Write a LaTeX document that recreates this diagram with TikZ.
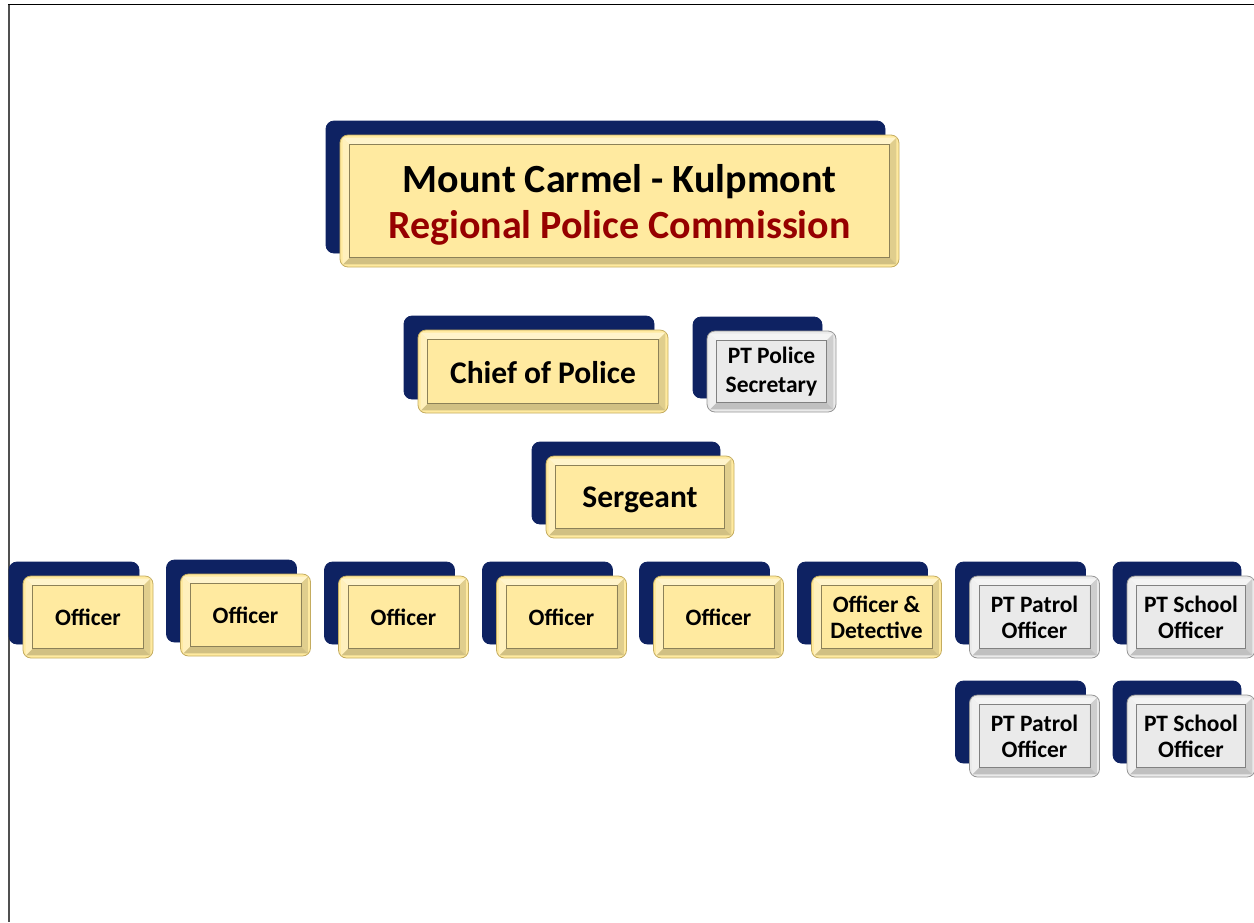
\documentclass[tikz,border=0pt]{standalone}
\usepackage{fontspec}
\setmainfont{Carlito}
\usetikzlibrary{shadows}
\definecolor{navy}{RGB}{14,34,98}
\definecolor{gold}{RGB}{255,234,160}
\definecolor{goldedge}{RGB}{196,172,96}
\definecolor{silver}{RGB}{234,234,234}
\definecolor{silveredge}{RGB}{150,150,150}
\definecolor{darkred}{RGB}{150,0,0}
\definecolor{frameline}{RGB}{80,80,80}
\tikzset{
  orgbox/.style={draw=goldedge, fill=gold, line width=0.8pt, rounded corners=8pt,
    inner sep=0pt, align=center, font=\bfseries,
    copy shadow={shadow xshift=-14pt, shadow yshift=14pt, fill=navy, draw=navy, opacity=1, rounded corners=10pt}},
  ptbox/.style={orgbox, fill=silver, draw=silveredge},
  bigtext/.style={font=\bfseries\fontsize{40}{46}\selectfont, align=center, inner sep=0pt},
  midtext/.style={font=\bfseries\fontsize{31.5}{36}\selectfont, align=center, inner sep=0pt},
  smalltext/.style={font=\bfseries\fontsize{23.5}{26}\selectfont},
  sectext/.style={font=\bfseries\fontsize{23.5}{29}\selectfont},
}
\newcommand\bevel[2]{%
  \path ([shift={(3pt,-3pt)}]#1.north west) coordinate (bA)
        ([shift={(-3pt,-3pt)}]#1.north east) coordinate (bB)
        ([shift={(-3pt,3pt)}]#1.south east) coordinate (bC)
        ([shift={(3pt,3pt)}]#1.south west) coordinate (bD)
        ([shift={(10pt,-10pt)}]#1.north west) coordinate (ba)
        ([shift={(-10pt,-10pt)}]#1.north east) coordinate (bb)
        ([shift={(-10pt,10pt)}]#1.south east) coordinate (bc)
        ([shift={(10pt,10pt)}]#1.south west) coordinate (bd);
  \fill[#2!55!white] (bA)--(bB)--(bb)--(ba)--cycle;
  \fill[#2!88!black] (bB)--(bC)--(bc)--(bb)--cycle;
  \fill[#2!82!black] (bC)--(bD)--(bd)--(bc)--cycle;
  \fill[#2!70!white] (bD)--(bA)--(ba)--(bd)--cycle;
  \draw[#2!55!black, line width=0.6pt] (ba) rectangle (bc);
}
\begin{document}
\begin{tikzpicture}[x=1pt,y=-1pt]
\path[use as bounding box] (0,0) rectangle (1254,922);
\draw[frameline, line width=2pt] (9,4) -- (9,922);
\draw[black, line width=1pt] (8,4) -- (1254,4);

\node[orgbox, minimum width=559pt, minimum height=132pt] (main) at (619.5,201) {};
\node[orgbox, minimum width=250pt, minimum height=83pt] (chief) at (543,371.5) {};
\node[ptbox, sectext, minimum width=129pt, minimum height=81pt] (sec) at (771.5,371.5) {PT Police\\Secretary};
\node[orgbox, minimum width=188pt, minimum height=82pt] (sgt) at (640,497) {};

\node[orgbox, smalltext, minimum width=130pt, minimum height=82pt] (off1) at (88,617) {Officer};
\node[orgbox, smalltext, minimum width=130pt, minimum height=82pt] (off2) at (245.5,615) {Officer};
\node[orgbox, smalltext, minimum width=130pt, minimum height=82pt] (off3) at (403.5,617) {Officer};
\node[orgbox, smalltext, minimum width=130pt, minimum height=82pt] (off4) at (561.5,617) {Officer};
\node[orgbox, smalltext, minimum width=130pt, minimum height=82pt] (off5) at (718.5,617) {Officer};
\node[orgbox, smalltext, minimum width=130pt, minimum height=82pt] (det) at (876.5,617) {Officer \&\\Detective};
\node[ptbox, smalltext, minimum width=130pt, minimum height=82pt] (pat1) at (1034.5,617) {PT Patrol\\Officer};
\node[ptbox, smalltext, minimum width=128pt, minimum height=82pt] (sch1) at (1191,617) {PT School\\Officer};
\node[ptbox, smalltext, minimum width=130pt, minimum height=82pt] (pat2) at (1034.5,736) {PT Patrol\\Officer};
\node[ptbox, smalltext, minimum width=128pt, minimum height=82pt] (sch2) at (1191,736) {PT School\\Officer};

\foreach \n in {main,chief,sgt,off1,off2,off3,off4,off5,det} {\bevel{\n}{gold}}
\foreach \n in {sec,pat1,sch1,pat2,sch2} {\bevel{\n}{silver}}

\node[bigtext] (maintext) at ([yshift=-4pt]main.center)
  {Mount Carmel - Kulpmont\\ \color{darkred}Regional Police Commission};
\node[midtext] (chieftext) at ([yshift=-1.5pt]chief.center) {Chief of Police};
\node[midtext] (sgttext) at ([yshift=-3pt]sgt.center) {Sergeant};
\end{tikzpicture}
\end{document}
